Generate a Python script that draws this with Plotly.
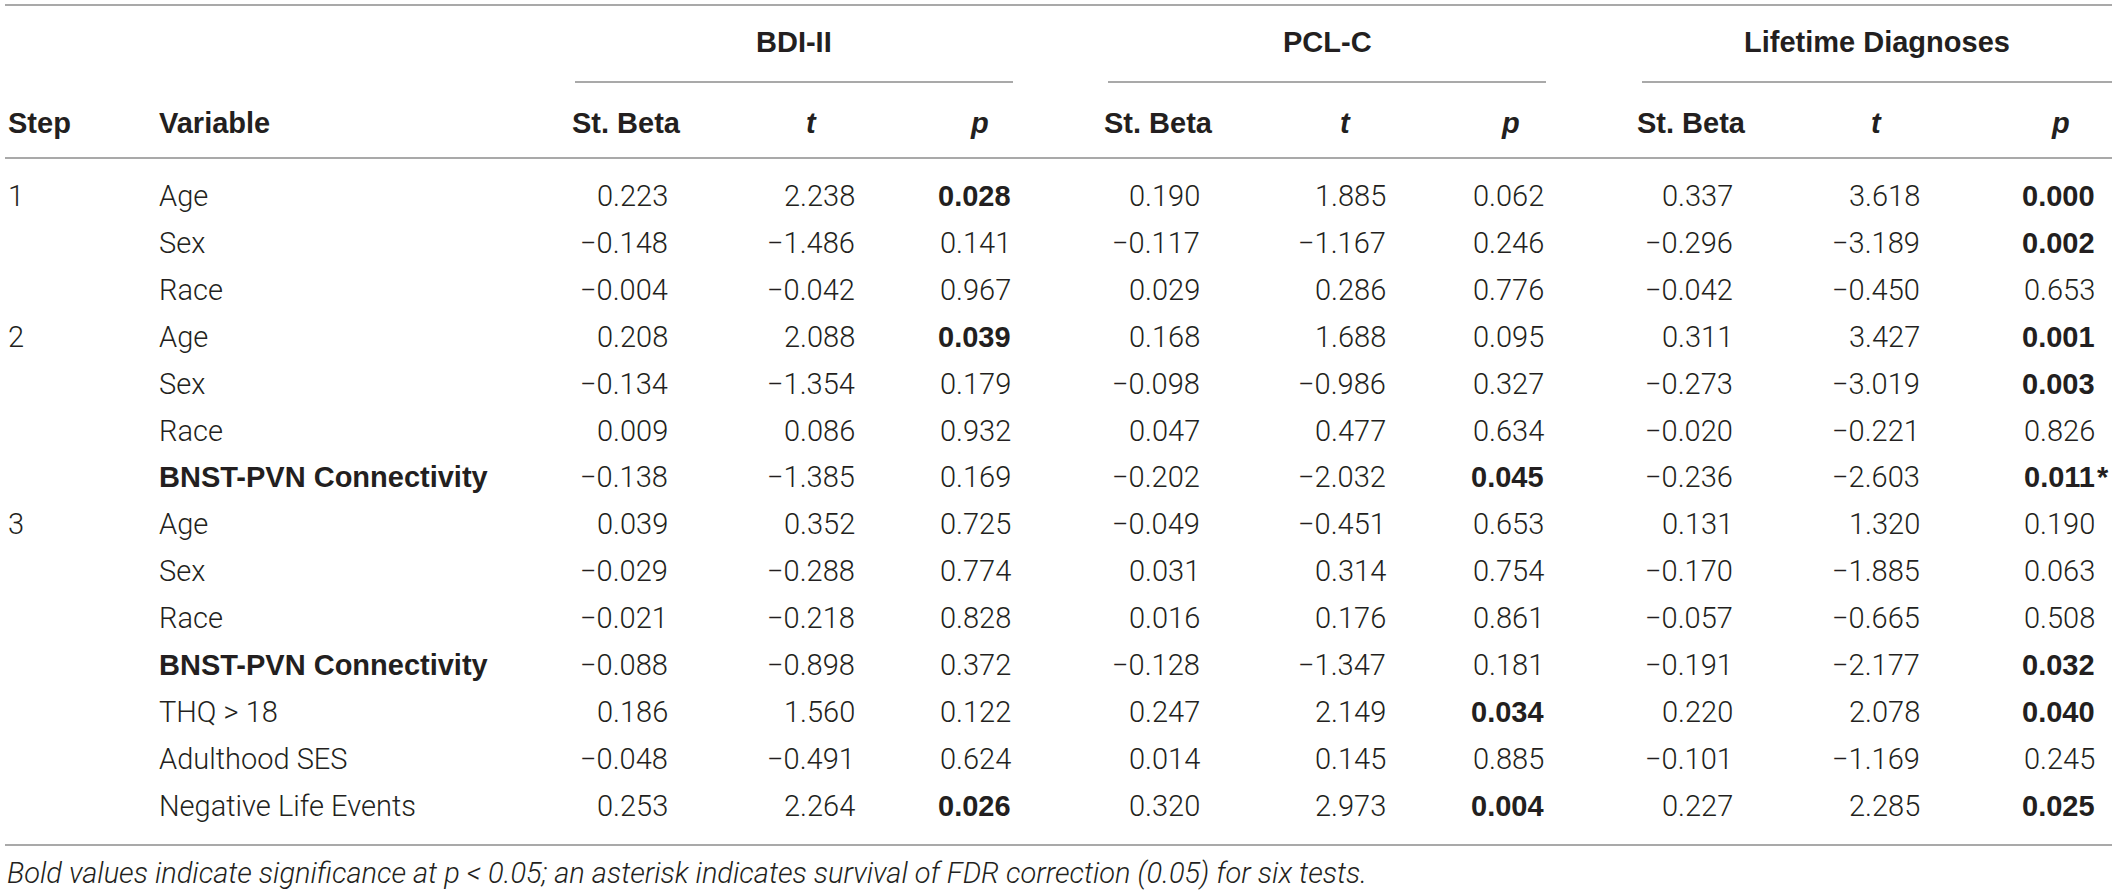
import plotly.graph_objects as go

# table content
steps = ["1", "", "", "2", "", "", "", "3", "", "", "", "", "", ""]
variables = ["Age", "Sex", "Race",
             "Age", "Sex", "Race", "BNST-PVN Connectivity",
             "Age", "Sex", "Race", "BNST-PVN Connectivity",
             "THQ &gt; 18", "Adulthood SES", "Negative Life Events"]

groups = ["BDI-II", "PCL-C", "Lifetime Diagnoses"]
col_heads = ["St. Beta", "t", "p"]

bdi_beta = [0.223, -0.148, -0.004, 0.208, -0.134, 0.009, -0.138, 0.039, -0.029, -0.021, -0.088, 0.186, -0.048, 0.253]
bdi_t = [2.238, -1.486, -0.042, 2.088, -1.354, 0.086, -1.385, 0.352, -0.288, -0.218, -0.898, 1.560, -0.491, 2.264]
bdi_p = [0.028, 0.141, 0.967, 0.039, 0.179, 0.932, 0.169, 0.725, 0.774, 0.828, 0.372, 0.122, 0.624, 0.026]

pcl_beta = [0.190, -0.117, 0.029, 0.168, -0.098, 0.047, -0.202, -0.049, 0.031, 0.016, -0.128, 0.247, 0.014, 0.320]
pcl_t = [1.885, -1.167, 0.286, 1.688, -0.986, 0.477, -2.032, -0.451, 0.314, 0.176, -1.347, 2.149, 0.145, 2.973]
pcl_p = [0.062, 0.246, 0.776, 0.095, 0.327, 0.634, 0.045, 0.653, 0.754, 0.861, 0.181, 0.034, 0.885, 0.004]

life_beta = [0.337, -0.296, -0.042, 0.311, -0.273, -0.020, -0.236, 0.131, -0.170, -0.057, -0.191, 0.220, -0.101, 0.227]
life_t = [3.618, -3.189, -0.450, 3.427, -3.019, -0.221, -2.603, 1.320, -1.885, -0.665, -2.177, 2.078, -1.169, 2.285]
life_p = [0.000, 0.002, 0.653, 0.001, 0.003, 0.826, 0.011, 0.190, 0.063, 0.508, 0.032, 0.040, 0.245, 0.025]
life_fdr = [False, False, False, False, False, False, True, False, False, False, False, False, False, False]

footnote = ("Bold values indicate significance at p &lt; 0.05; an asterisk indicates "
            "survival of FDR correction (0.05) for six tests.")

# layout (pixels)
W, H = 2117, 893
ROW0, ROWH = 196, 46.9
TXT = "#231f20"
LINE = "#8c8c8c"
FS = 29

light = dict(family="Roboto, Liberation Sans, sans-serif", size=FS, weight=300, color=TXT)
bold = dict(family="Liberation Sans, Arial, sans-serif", size=FS, weight=700, color=TXT)
bold_it = dict(family="Liberation Sans, Arial, sans-serif", size=FS, weight=700, style="italic", color=TXT)

# per group: (underline start, underline end, value right edges, header centres)
group_geo = [
    (575, 1013, [670, 857, 1013], [626, 811, 979]),
    (1108, 1546, [1202, 1388, 1546], [1158, 1345, 1510]),
    (1642, 2112, [1735, 1922, 2097], [1691, 1876, 2060]),
]
group_data = [
    (bdi_beta, bdi_t, bdi_p, [False] * 14),
    (pcl_beta, pcl_t, pcl_p, [False] * 14),
    (life_beta, life_t, life_p, life_fdr),
]


def fmt(v):
    return f"{v:.3f}".replace("-", "\u2212")


ann = []


def add(x, y, text, font, xanchor="left"):
    ann.append(dict(x=x, y=y, text=text, font=font, xanchor=xanchor, yanchor="middle",
                    showarrow=False, xref="x", yref="y"))


shapes = []


def hline(x0, x1, y):
    shapes.append(dict(type="line", x0=x0, x1=x1, y0=y, y1=y, xref="x", yref="y",
                       line=dict(color=LINE, width=1.5)))


# rules
hline(5, 2112, 5)
hline(5, 2112, 158)
hline(5, 2112, 845)

# header row
add(6, 123, "Step", bold)
add(157, 123, "Variable", bold)

for g, (name, geo, dat) in enumerate(zip(groups, group_geo, group_data)):
    x0, x1, rights, centres = geo
    hline(x0, x1, 82)
    add((x0 + x1) / 2, 42, name, bold, "center")
    for c, head in enumerate(col_heads):
        add(centres[c], 123, head, bold if c == 0 else bold_it, "center")
    beta, tval, pval, fdr = dat
    for i in range(len(variables)):
        y = ROW0 + i * ROWH
        add(rights[0], y, fmt(beta[i]), light, "right")
        add(rights[1], y, fmt(tval[i]), light, "right")
        add(rights[2], y, fmt(pval[i]), bold if pval[i] < 0.05 else light, "right")
        if fdr[i]:
            add(rights[2] - 2, y, "*", bold, "left")

for i, (s, v) in enumerate(zip(steps, variables)):
    y = ROW0 + i * ROWH
    if s:
        add(6, y, s, light)
    add(157, y, v, bold if v.startswith("BNST") else light)

add(5, 873, footnote, dict(family="Roboto, Liberation Sans, sans-serif", size=FS,
                           weight=300, style="italic", color=TXT))

fig = go.Figure()
fig.update_layout(
    width=W, height=H,
    margin=dict(l=0, r=0, t=0, b=0),
    paper_bgcolor="white", plot_bgcolor="white",
    xaxis=dict(range=[0, W], visible=False, fixedrange=True),
    yaxis=dict(range=[H, 0], visible=False, fixedrange=True),
    annotations=ann, shapes=shapes, showlegend=False,
)
fig.write_html("out.html", config={"displayModeBar": False},
               post_script="document.body.style.margin='0';document.body.style.overflow='hidden';")
